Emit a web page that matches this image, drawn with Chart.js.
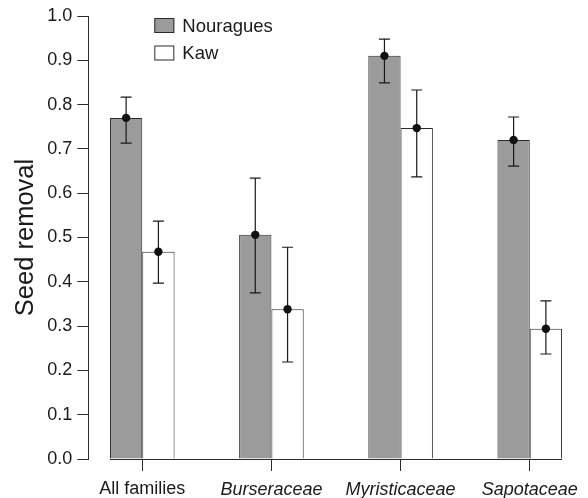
<!DOCTYPE html>
<html>
<head>
<meta charset="utf-8">
<script src="https://cdn.jsdelivr.net/npm/chart.js@4"></script>
<style>
  html, body { margin: 0; padding: 0; background: #fff; }
  #wrap { width: 588px; height: 498px; }
</style>
</head>
<body>
<div id="wrap"><canvas id="myChart" width="588" height="498"></canvas></div>
<script>
const categories = ['All families', 'Burseraceae', 'Myristicaceae', 'Sapotaceae'];

const nouragues = [0.770, 0.506, 0.910, 0.720];
const nouraguesLow = [0.713, 0.375, 0.849, 0.661];
const nouraguesHigh = [0.817, 0.634, 0.948, 0.772];

const kaw = [0.468, 0.338, 0.747, 0.294];
const kawLow = [0.397, 0.219, 0.637, 0.237];
const kawHigh = [0.537, 0.478, 0.833, 0.357];

const yTicks = [0, 0.1, 0.2, 0.3, 0.4, 0.5, 0.6, 0.7, 0.8, 0.9, 1.0];

const FONT = "'Liberation Sans', Arial, Helvetica, sans-serif";
const INK = '#2b2b2b';

// error bars + dots on top of each bar
const errorBars = {
    id: 'errorBars',
    afterDatasetsDraw(chart) {
        const y = chart.scales.y;
        const c = chart.ctx;
        chart.data.datasets.forEach((ds, di) => {
            const meta = chart.getDatasetMeta(di);
            meta.data.forEach((bar, i) => {
                const top = y.getPixelForValue(ds.errHigh[i]);
                const bot = y.getPixelForValue(ds.errLow[i]);
                c.save();
                c.strokeStyle = '#1a1a1a';
                c.lineWidth = 1.2;
                c.beginPath();
                c.moveTo(bar.x, top); c.lineTo(bar.x, bot);
                c.moveTo(bar.x - 5.5, top); c.lineTo(bar.x + 5.5, top);
                c.moveTo(bar.x - 5.5, bot); c.lineTo(bar.x + 5.5, bot);
                c.stroke();
                c.fillStyle = '#111';
                c.beginPath();
                c.arc(bar.x, bar.y, 4.2, 0, Math.PI * 2);
                c.fill();
                c.restore();
            });
        });
    }
};

// baseline under the bars only (R style detached axis)
const baseline = {
    id: 'baseline',
    afterDatasetsDraw(chart) {
        const y0 = chart.scales.y.getPixelForValue(0);
        const first = chart.getDatasetMeta(0).data[0];
        const lastMeta = chart.getDatasetMeta(chart.data.datasets.length - 1);
        const last = lastMeta.data[lastMeta.data.length - 1];
        const c = chart.ctx;
        c.save();
        c.strokeStyle = INK;
        c.lineWidth = 1;
        c.beginPath();
        c.moveTo(first.x - first.width / 2, y0 + 0.5);
        c.lineTo(last.x + last.width / 2, y0 + 0.5);
        c.stroke();
        c.restore();
    }
};

// legend drawn inside the plot, top left
const insideLegend = {
    id: 'insideLegend',
    afterDraw(chart) {
        const area = chart.chartArea;
        const c = chart.ctx;
        const x0 = area.left + 66;
        let yc = area.top + 9.5;
        c.save();
        chart.data.datasets.forEach(ds => {
            c.fillStyle = ds.backgroundColor;
            c.fillRect(x0, yc - 7.5, 20, 15);
            c.strokeStyle = INK;
            c.lineWidth = 1;
            c.strokeRect(x0 + 0.5, yc - 7, 19, 14);
            c.fillStyle = '#1a1a1a';
            c.font = '18.5px ' + FONT;
            c.textBaseline = 'middle';
            c.fillText(ds.label, x0 + 28, yc + 1);
            yc += 27.5;
        });
        c.restore();
    }
};

const ctx = document.getElementById('myChart');

new Chart(ctx, {
    type: 'bar',
    data: {
        datasets: [
            {
                label: 'Nouragues',
                data: nouragues.map((v, i) => ({ x: i, y: v })),
                errLow: nouraguesLow,
                errHigh: nouraguesHigh,
                backgroundColor: '#9b9b9b',
                borderColor: INK,
                borderWidth: 1,
            },
            {
                label: 'Kaw',
                data: kaw.map((v, i) => ({ x: i, y: v })),
                errLow: kawLow,
                errHigh: kawHigh,
                backgroundColor: '#ffffff',
                borderColor: INK,
                borderWidth: 1,
            },
        ],
    },
    options: {
        responsive: false,
        animation: false,
        categoryPercentage: 0.5,
        barPercentage: 1.0,
        layout: { padding: { left: 8, top: 16, right: 4, bottom: 0 } },
        plugins: {
            legend: { display: false },
            tooltip: { enabled: false },
        },
        scales: {
            x: {
                type: 'linear',
                min: -0.4176,
                max: 3.42,
                offset: false,
                grid: { offset: false, drawOnChartArea: false, drawTicks: true, tickLength: 12, color: INK },
                border: { display: false },
                afterBuildTicks: scale => {
                    scale.ticks = categories.map((c, i) => ({ value: i }));
                },
                afterFit: scale => { scale.height = 39; },
                ticks: {
                    autoSkip: false,
                    maxRotation: 0,
                    padding: 9.5,
                    color: '#1a1a1a',
                    callback: v => categories[v],
                    font: c => ({ family: FONT, size: 18, lineHeight: 1, style: c.index === 0 ? 'normal' : 'italic' }),
                },
            },
            y: {
                min: 0,
                max: 1,
                grid: { drawOnChartArea: false, drawTicks: true, tickLength: 11, color: INK },
                border: { display: true, color: INK, width: 1 },
                afterBuildTicks: scale => {
                    scale.ticks = yTicks.map(v => ({ value: v }));
                },
                ticks: {
                    padding: 5,
                    color: '#1a1a1a',
                    font: { family: FONT, size: 18 },
                    callback: v => v.toFixed(1),
                },
                title: {
                    display: true,
                    text: 'Seed removal',
                    color: '#1a1a1a',
                    font: { family: FONT, size: 25.5 },
                    padding: { top: 2.5, bottom: 1.2 },
                },
            },
        },
    },
    plugins: [baseline, errorBars, insideLegend],
});
</script>
</body>
</html>
